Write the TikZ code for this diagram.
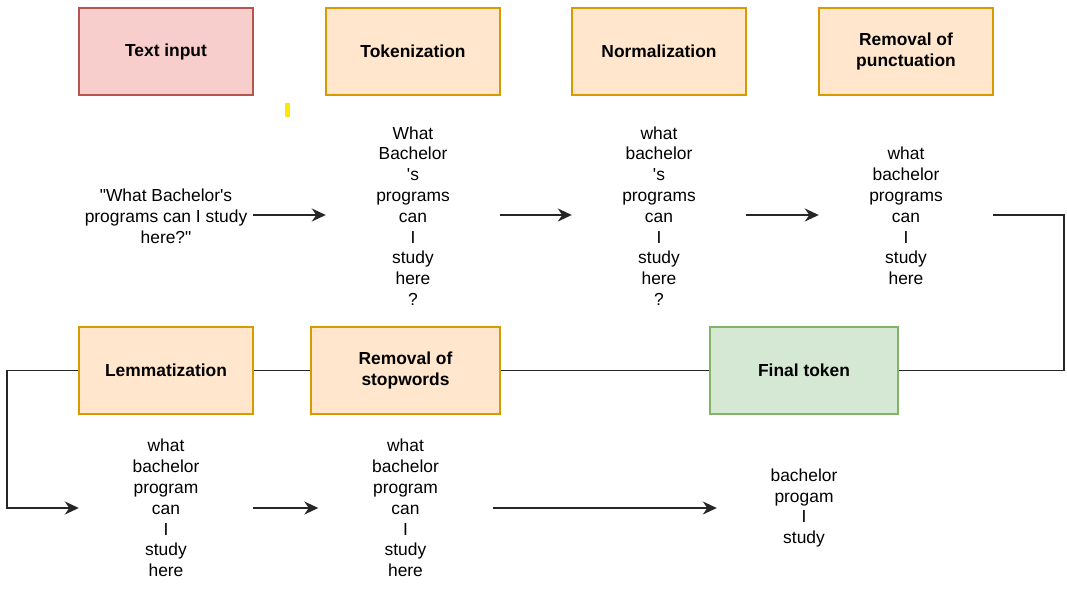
\documentclass[tikz,border=0pt]{standalone}
\usepackage{fontspec}
\setmainfont{Liberation Sans}[Ligatures=TeXOff]
\usetikzlibrary{arrows.meta, positioning, backgrounds}

\definecolor{inputfill}{HTML}{F8CECC}
\definecolor{inputline}{HTML}{B85450}
\definecolor{stagefill}{HTML}{FFE6CC}
\definecolor{stageline}{HTML}{D79B00}
\definecolor{finalfill}{HTML}{D5E8D4}
\definecolor{finalline}{HTML}{82B366}
\definecolor{markyellow}{HTML}{FFE600}

\newcommand{\diagfont}{\fontsize{17.4}{21.5}\selectfont}

\begin{document}
\begin{tikzpicture}[
        x=1pt, y=-1pt,
        stage/.style={rectangle, draw=stageline, fill=stagefill, line width=1.5pt, minimum width=174pt, minimum height=87pt, align=center, inner sep=2pt, font=\diagfont\bfseries},
        tokens/.style={align=center, minimum width=174pt, inner sep=0pt, font=\fontsize{17.4}{20.8}\selectfont},
        flow/.style={-{Stealth[length=14pt, width=13pt, inset=4.5pt]}, line width=1.8pt, draw=black!85}
    ]
        \useasboundingbox (0,0) rectangle (1067,590);

        % Stages, top row
        \node[stage, draw=inputline, fill=inputfill] (input) at (166,51.5) {Text input};
        \node[stage] (tokenize) at (413,51.5) {Tokenization};
        \node[stage] (normalize) at (659,51.5) {Normalization};
        \node[stage] (punct) at (906,51.5) {Removal of\\punctuation};

        % Stages, bottom row
        \node[stage] (lemma) at (166,370.5) {Lemmatization};
        \node[stage, minimum width=189pt] (stopw) at (405.5,370.5) {Removal of\\stopwords};
        \node[stage, draw=finalline, fill=finalfill, minimum width=188pt] (final) at (804,370.5) {Final token};

        % Token lists
        \node[tokens] (inputtxt) at (166,216) {"What Bachelor's\\programs can I study\\here?"};
        \node[tokens] (tokentxt) at (413,216) {What\\Bachelor\\'s\\programs\\can\\I\\study\\here\\?};
        \node[tokens] (normtxt) at (659,216) {what\\bachelor\\'s\\programs\\can\\I\\study\\here\\?};
        \node[tokens] (puncttxt) at (906,216) {what\\bachelor\\programs\\can\\I\\study\\here};
        \node[tokens] (lemmatxt) at (166,508) {what\\bachelor\\program\\can\\I\\study\\here};
        \node[tokens] (stopwtxt) at (405.5,508) {what\\bachelor\\program\\can\\I\\study\\here};
        \node[tokens] (finaltxt) at (804,508) {bachelor\\progam\\I\\study};

        % Small mark
        \fill[markyellow] (285,103) rectangle (290,117);

        % Connections
        \draw[flow] (inputtxt.east |- 0,215) -- (tokentxt.west |- 0,215);
        \draw[flow] (tokentxt.east |- 0,215) -- (normtxt.west |- 0,215);
        \draw[flow] (normtxt.east |- 0,215) -- (puncttxt.west |- 0,215);
        \draw[flow] (lemmatxt.east) -- (stopwtxt.west);
        \draw[flow] (stopwtxt.east) -- (finaltxt.west);

        % Return line behind the bottom stages
        \begin{scope}[on background layer]
            \draw[flow] (puncttxt.east |- 0,215) -- (1064,215) |- (final.east) -- (lemma.west) -- (7,370.5) |- (lemmatxt.west);
        \end{scope}

    \end{tikzpicture}
\end{document}
